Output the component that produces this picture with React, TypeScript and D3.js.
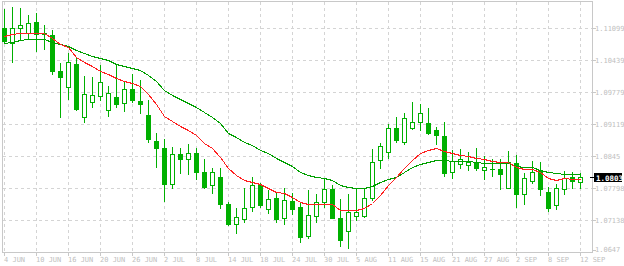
import React from "react";
import * as d3 from "d3";

const dateLabels = ["4 JUN","10 JUN","16 JUN","20 JUN","26 JUN","2 JUL","8 JUL","14 JUL","18 JUL","24 JUL","30 JUL","5 AUG","11 AUG","15 AUG","21 AUG","27 AUG","2 SEP","8 SEP","12 SEP"];
const priceTicks = [1.11099, 1.10439, 1.09779, 1.09119, 1.08459, 1.07798, 1.07138];
const priceTickLabels = ["1.11099","1.10439","1.09779","1.09119","1.0845","1.07798","1.07138"];
const bottomPriceLabel = "1.0647";
const lastPrice = 1.0803;
const lastPriceLabel = "1.0803";

const opens = [1.11109,1.10783,1.11093,1.10990,1.11217,1.10986,1.10955,1.10212,1.09876,1.10350,1.09257,1.09566,1.09690,1.09401,1.09675,1.09546,1.09834,1.09593,1.09304,1.08768,1.08617,1.07887,1.08500,1.08403,1.08520,1.08122,1.07854,1.08025,1.07462,1.07049,1.07159,1.07400,1.07854,1.07359,1.07592,1.07173,1.07530,1.07406,1.06802,1.07214,1.07516,1.07778,1.07179,1.06905,1.07227,1.07227,1.07586,1.08370,1.08547,1.09036,1.08753,1.09030,1.09154,1.09139,1.08989,1.08865,1.08134,1.08293,1.08267,1.08328,1.08176,1.08192,1.08190,1.07804,1.08308,1.07668,1.07949,1.08163,1.07716,1.07441,1.07771,1.08025,1.07922];
const highs = [1.11501,1.11532,1.11505,1.11367,1.11402,1.11161,1.11068,1.10371,1.10577,1.10474,1.10109,1.10094,1.10336,1.09902,1.10336,1.09979,1.10150,1.10026,1.09607,1.08933,1.08809,1.08638,1.08617,1.08700,1.08617,1.08396,1.08205,1.08205,1.07516,1.07379,1.07792,1.08031,1.07895,1.07757,1.07710,1.07798,1.07689,1.07516,1.07757,1.07668,1.08011,1.07860,1.07571,1.07668,1.07792,1.07804,1.08603,1.08720,1.09119,1.09263,1.09339,1.09566,1.09525,1.09442,1.09050,1.09154,1.08582,1.08597,1.08541,1.08617,1.08452,1.08390,1.08390,1.08562,1.08473,1.08101,1.08355,1.08335,1.07819,1.07875,1.08149,1.08122,1.08101];
const lows = [1.10790,1.10391,1.10851,1.10887,1.10631,1.10666,1.10140,1.09269,1.09634,1.09407,1.09166,1.09463,1.09614,1.09290,1.09475,1.09387,1.09579,1.09352,1.08753,1.08238,1.07536,1.07804,1.08114,1.08093,1.07984,1.07792,1.07701,1.07379,1.07035,1.06876,1.07103,1.07330,1.07400,1.07276,1.07103,1.07056,1.07268,1.06690,1.06760,1.07103,1.07400,1.07173,1.06608,1.06567,1.07138,1.07200,1.07551,1.08217,1.08411,1.08753,1.08712,1.09015,1.08995,1.08912,1.08706,1.08052,1.07998,1.08205,1.08163,1.08163,1.07984,1.08052,1.07784,1.07792,1.07400,1.07474,1.07908,1.07660,1.07330,1.07359,1.07668,1.07792,1.07792];
const closes = [1.10821,1.11093,1.11155,1.11196,1.10969,1.10965,1.10218,1.10094,1.10391,1.09434,1.09731,1.09717,1.09979,1.09752,1.09537,1.09834,1.09614,1.09531,1.08815,1.08630,1.07887,1.08493,1.08403,1.08514,1.08134,1.07825,1.08122,1.07474,1.07056,1.07194,1.07379,1.07854,1.07454,1.07565,1.07152,1.07544,1.07371,1.06794,1.07235,1.07503,1.07771,1.07185,1.06732,1.07297,1.07297,1.07586,1.08335,1.08658,1.09030,1.08795,1.09236,1.09154,1.09345,1.08939,1.08898,1.08114,1.08349,1.08390,1.08341,1.08217,1.08231,1.08186,1.08087,1.08335,1.07681,1.07998,1.08122,1.07784,1.07379,1.07792,1.08005,1.07936,1.08030];

const maFast = [1.10934,1.10969,1.10990,1.11006,1.10990,1.10986,1.10887,1.10779,1.10707,1.10511,1.10398,1.10305,1.10212,1.10150,1.10068,1.10006,1.09958,1.09902,1.09737,1.09531,1.09290,1.09180,1.09083,1.08995,1.08892,1.08720,1.08630,1.08444,1.08205,1.08066,1.07963,1.07928,1.07875,1.07792,1.07722,1.07689,1.07619,1.07516,1.07462,1.07468,1.07474,1.07468,1.07344,1.07340,1.07344,1.07379,1.07482,1.07654,1.07860,1.08031,1.08205,1.08376,1.08514,1.08582,1.08617,1.08568,1.08514,1.08479,1.08464,1.08411,1.08390,1.08361,1.08341,1.08328,1.08238,1.08190,1.08190,1.08134,1.08011,1.07969,1.07998,1.07984,1.07984];
const maSlow = [1.10796,1.10804,1.10845,1.10866,1.10866,1.10866,1.10816,1.10763,1.10734,1.10645,1.10577,1.10521,1.10486,1.10439,1.10360,1.10315,1.10280,1.10233,1.10129,1.10006,1.09820,1.09717,1.09628,1.09558,1.09475,1.09372,1.09269,1.09133,1.08927,1.08850,1.08753,1.08685,1.08582,1.08514,1.08411,1.08341,1.08258,1.08134,1.08066,1.08031,1.08011,1.07963,1.07860,1.07809,1.07792,1.07792,1.07839,1.07916,1.07984,1.08031,1.08134,1.08225,1.08293,1.08341,1.08370,1.08370,1.08361,1.08355,1.08355,1.08341,1.08320,1.08308,1.08314,1.08314,1.08258,1.08225,1.08225,1.08176,1.08122,1.08101,1.08093,1.08081,1.08081];

const W = 624, H = 266;
const LEFT = 2, RIGHT = 592, TOP = 1, BOTTOM = 252;
const CANDLE = "#00b000";
const GRID = "#d4d4d4";
const FRAME = "#c8c8c8";
const LABEL = "#c0c0c0";
const FONT = "'DejaVu Sans Mono', monospace";

export default function App() {
  const n = closes.length;
  const x = d3.scaleLinear().domain([0, n - 1]).range([4, 4 + 8 * (n - 1)]);
  const y = d3.scaleLinear().domain([1.11099, 1.07138]).range([28, 220]);
  const idx = d3.range(n);

  const line = (vals: number[]) =>
    d3.line<number>().x((i) => x(i) + 0.5).y((i) => Math.round(y(vals[i])) + 0.5)(idx) || "";

  const lpY = Math.round(y(lastPrice));

  return (
    <svg width={W} height={H} style={{ position: "absolute", left: 0, top: 0, background: "#fff" }}>
      <rect x={0} y={0} width={W} height={H} fill="#fff" />
      {/* horizontal grid */}
      {priceTicks.map((p, k) => {
        const yy = Math.round(y(p)) + 0.5;
        return <line key={"h" + k} x1={LEFT + 1} x2={RIGHT} y1={yy} y2={yy} stroke={GRID} strokeDasharray="3 3" />;
      })}
      {/* vertical grid */}
      {dateLabels.map((d, k) => {
        const xx = x(k * 4) + 0.5;
        return <line key={"v" + k} x1={xx} x2={xx} y1={TOP + 1} y2={BOTTOM} stroke={GRID} strokeDasharray="3 3" />;
      })}
      {/* frame */}
      <line x1={LEFT + 0.5} x2={LEFT + 0.5} y1={TOP} y2={BOTTOM + 0.5} stroke={FRAME} />
      <line x1={RIGHT + 0.5} x2={RIGHT + 0.5} y1={TOP} y2={BOTTOM + 0.5} stroke={FRAME} />
      <line x1={LEFT} x2={RIGHT + 1} y1={TOP + 0.5} y2={TOP + 0.5} stroke={FRAME} />
      <line x1={LEFT} x2={RIGHT + 1} y1={BOTTOM + 0.5} y2={BOTTOM + 0.5} stroke={FRAME} />

      {/* candles */}
      {idx.map((i) => {
        const cx = x(i);
        const o = opens[i], c = closes[i];
        const yTop = Math.round(y(Math.max(o, c)));
        const yBot = Math.round(y(Math.min(o, c)));
        const yH = Math.round(y(highs[i]));
        const yL = Math.round(y(lows[i]));
        const bull = c > o;
        return (
          <g key={"c" + i} shapeRendering="crispEdges">
            <rect x={cx} y={yH} width={1} height={yL - yH + 1} fill={CANDLE} />
            {yBot - yTop < 1 ? (
              <rect x={cx - 2} y={yTop} width={5} height={1} fill={CANDLE} />
            ) : bull ? (
              <rect x={cx - 1.5} y={yTop + 0.5} width={4} height={yBot - yTop} fill="#fff" stroke={CANDLE} strokeWidth={1} />
            ) : (
              <rect x={cx - 2} y={yTop} width={5} height={yBot - yTop + 1} fill={CANDLE} />
            )}
          </g>
        );
      })}

      {/* moving averages */}
      <path d={line(maSlow)} fill="none" stroke="#00a000" strokeWidth={1} shapeRendering="crispEdges" />
      <path d={line(maFast)} fill="none" stroke="#ff2020" strokeWidth={1} shapeRendering="crispEdges" />

      {/* right axis ticks and labels */}
      {priceTicks.map((p, k) => {
        const yy = Math.round(y(p));
        return (
          <g key={"yl" + k}>
            <line x1={RIGHT + 1} x2={RIGHT + 4} y1={yy + 0.5} y2={yy + 0.5} stroke={FRAME} />
            <text x={595} y={yy + 3} fontFamily={FONT} fontSize={7} fill={LABEL}>{priceTickLabels[k]}</text>
          </g>
        );
      })}
      <line x1={RIGHT + 1} x2={RIGHT + 4} y1={BOTTOM - 1.5} y2={BOTTOM - 1.5} stroke={FRAME} />
      <text x={595} y={BOTTOM + 0} fontFamily={FONT} fontSize={7} fill={LABEL}>{bottomPriceLabel}</text>

      {/* bottom axis ticks and labels */}
      {dateLabels.map((d, k) => {
        const xx = x(k * 4);
        return (
          <g key={"xl" + k}>
            <line x1={xx + 0.5} x2={xx + 0.5} y1={BOTTOM + 1} y2={BOTTOM + 4} stroke={FRAME} />
            <text x={xx} y={262} fontFamily={FONT} fontSize={7} fill={LABEL}>{d}</text>
          </g>
        );
      })}

      {/* current price marker */}
      <line x1={590} x2={594} y1={lpY + 0.5} y2={lpY + 0.5} stroke="#000" />
      <rect x={594} y={lpY - 4} width={28} height={9} fill="#000" />
      <text x={596} y={lpY + 3.5} fontFamily={FONT} fontSize={7.5} fontWeight="bold" fill="#fff">{lastPriceLabel}</text>
    </svg>
  );
}
